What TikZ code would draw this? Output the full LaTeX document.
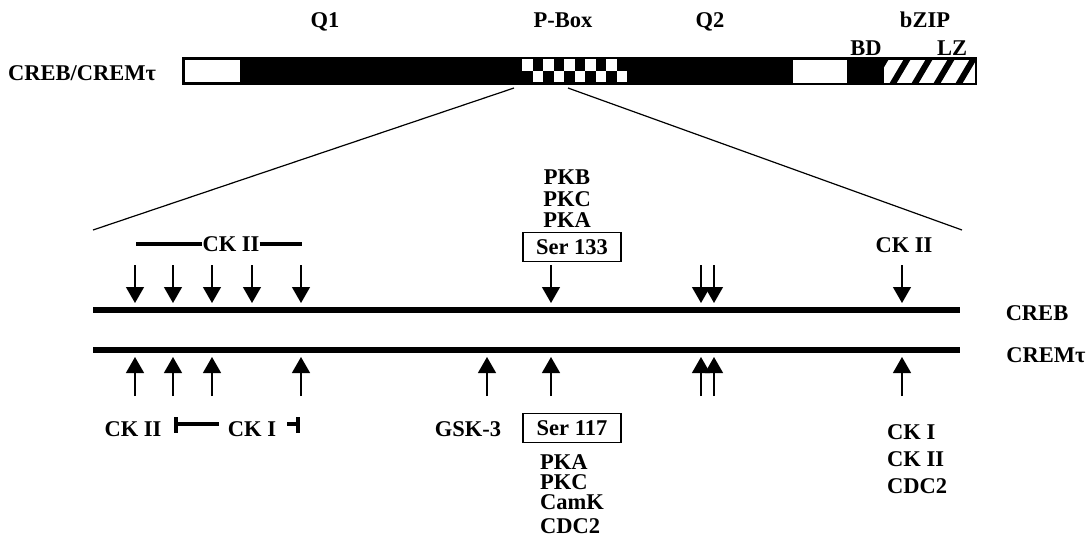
\documentclass[tikz,border=0pt]{standalone}
\usepackage{fontspec}
\setmainfont{Liberation Serif}
\usetikzlibrary{arrows.meta}

\begin{document}
\begin{tikzpicture}[x=1pt,y=-1pt,
  lbl/.style={font=\fontsize{22.5}{22.5}\selectfont\bfseries, inner sep=0pt,
              text height=14.8pt, text depth=0pt},
  lblL/.style={lbl, anchor=west},
  sitebox/.style={lbl, draw, line width=1.6pt, minimum width=98pt, minimum height=29pt},
  siteArrow/.style={line width=1.3pt, -{Triangle[width=18pt,length=16pt]}},
  chain/.style={line width=5.5pt},
  bracket/.style={line width=3.4pt},
  zoomline/.style={line width=1.2pt}]
\useasboundingbox (0,0) rectangle (1090,542);

% ---------- domain bar ----------
\fill[black] (182,57) rectangle (977,85);
\fill[white] (185,60) rectangle (240,82);
\fill[white] (793,60) rectangle (847,83);
% P-box checkerboard
\fill[black] (522,59) rectangle (627,82);
\foreach \i in {0,...,9}{
  \pgfmathsetmacro{\xa}{522+\i*10.5}
  \pgfmathsetmacro{\xb}{\xa+10.5}
  \ifodd\i
    \fill[white] (\xa,71) rectangle (\xb,82);
  \else
    \fill[white] (\xa,59) rectangle (\xb,71);
  \fi
}
% leucine zipper hatching
\begin{scope}
  \clip (884,60) rectangle (975,83);
  \fill[white] (884,60) rectangle (975,83);
  \foreach \x in {870,892,...,980}
    \draw[line width=6pt] (\x,85) -- (\x+16,58);
\end{scope}

\node[lbl] (q1)   at (325,20) {Q1};
\node[lbl] (pbox) at (563,20) {P-Box};
\node[lbl] (q2)   at (710,20) {Q2};
\node[lbl] (bzip) at (925,20) {bZIP};
\node[lbl] (bd)   at (866,48) {BD};
\node[lbl] (lz)   at (952,48) {LZ};
\node[lbl] (name) at (82,73) {CREB/CREM\char"03C4};

% ---------- expansion of the P-box ----------
\coordinate (pl) at (514,88);
\coordinate (pr) at (568,88);
\coordinate (el) at (93,230);
\coordinate (er) at (962,230);
\draw[zoomline] (pl) -- (el);
\draw[zoomline] (pr) -- (er);

% two chains
\coordinate (crebA) at (93,310);
\coordinate (crebB) at (960,310);
\coordinate (cremA) at (93,350);
\coordinate (cremB) at (960,350);
\draw[chain] (crebA) -- (crebB);
\draw[chain] (cremA) -- (cremB);
\node[lbl] (creb) at (1037,313) {CREB};
\node[lbl] (crem) at (1046,355) {CREM\char"03C4};

% phosphorylation sites on CREB
\foreach \x [count=\k] in {135,173,212,252,301,551,701,714,902}{
  \coordinate (ds\k) at (\x,265);
  \coordinate (de\k) at (\x,303);
  \draw[siteArrow] (ds\k) -- (de\k);
}
% phosphorylation sites on CREMtau
\foreach \x [count=\k] in {135,173,212,301,487,551,701,714,902}{
  \coordinate (us\k) at (\x,396);
  \coordinate (ue\k) at (\x,357);
  \draw[siteArrow] (us\k) -- (ue\k);
}

% kinases above CREB
\node[lbl] (ck2top) at (231,244) {CK II};
\coordinate (b1) at (136,244);
\coordinate (b2) at (302,244);
\draw[bracket] (b1) -- (ck2top.west);
\draw[bracket] (ck2top.east) -- (b2);

\node[lbl] (pkb) at (567,177) {PKB};
\node[lbl] (pkc) at (567,199) {PKC};
\node[lbl] (pka) at (567,220) {PKA};
\node[sitebox] (ser133) at (572,247) {Ser 133};

\node[lbl] (ck2r) at (904,245) {CK II};

% kinases below CREMtau
\node[lbl] (ck2b) at (133,429) {CK II};
\coordinate (t1a) at (176,417);
\coordinate (t1b) at (176,433);
\coordinate (t1c) at (176,424);
\coordinate (t1d) at (219,424);
\node[lbl] (ck1b) at (252,429) {CK I};
\draw[bracket] (t1a) -- (t1b);
\draw[bracket] (t1c) -- (t1d);
\coordinate (t2a) at (298,417);
\coordinate (t2b) at (298,433);
\coordinate (t2c) at (287,424);
\draw[bracket] (t2a) -- (t2b);
\draw[bracket] (t2c) -- (t2a |- t2c);

\node[lbl] (gsk) at (468,429) {GSK-3};
\node[sitebox] (ser117) at (572,428) {Ser 117};

\node[lblL] (pka2)  at (540,462) {PKA};
\node[lblL] (pkc2)  at (540,482) {PKC};
\node[lblL] (camk)  at (540,502) {CamK};
\node[lblL] (cdc2a) at (540,526) {CDC2};

\node[lblL] (ck1r)  at (887,432) {CK I};
\node[lblL] (ck2r2) at (887,459) {CK II};
\node[lblL] (cdc2b) at (887,486) {CDC2};
\end{tikzpicture}
\end{document}
